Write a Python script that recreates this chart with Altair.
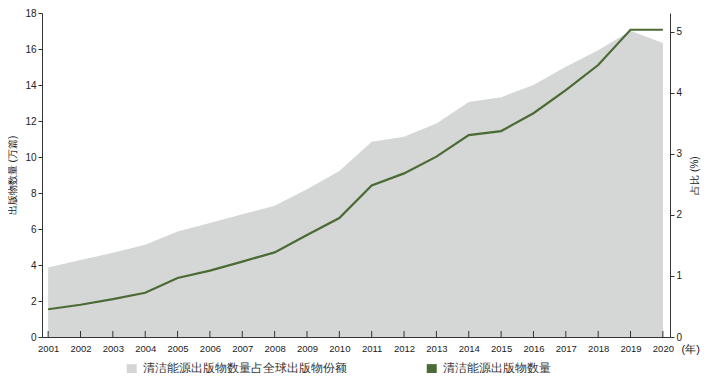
import altair as alt
import pandas as pd

years = list(range(2001, 2021))
publications = [1.54, 1.79, 2.10, 2.46, 3.28, 3.69, 4.19, 4.70, 5.67, 6.61,
                8.42, 9.09, 10.02, 11.22, 11.44, 12.43, 13.72, 15.11, 17.07, 17.07]
share = [1.14, 1.26, 1.38, 1.51, 1.73, 1.87, 2.01, 2.15, 2.42, 2.72,
         3.20, 3.28, 3.50, 3.85, 3.93, 4.13, 4.43, 4.70, 5.02, 4.82]

area_label = "清洁能源出版物数量占全球出版物份额"
line_label = "清洁能源出版物数量"

df = pd.DataFrame({"year": years, "pub": publications, "share": share,
                   "s_area": area_label, "s_line": line_label})

FONT = "Liberation Sans"
W, H = 628, 324
xscale = alt.Scale(domain=[2000.81, 2020.22], nice=False, zero=False)
xaxis = alt.Axis(values=years, format="d", title="(年)", tickSize=0,
                 labelPadding=6, labelFontSize=9.5, labelColor="#222",
                 labelOverlap=False, labelFlush=False, labelBound=False,
                 domainColor="#333", titleFontSize=11, titleFontWeight="normal",
                 titleColor="#222", titleAnchor="end", titleAlign="left",
                 titleBaseline="middle", titleX=W + 11, titleY=12)

base = alt.Chart(df)

area = base.mark_area(color="#d5d6d6").encode(
    x=alt.X("year:Q", scale=xscale, axis=xaxis),
    y=alt.Y("share:Q", scale=alt.Scale(domain=[0, 5.31], nice=False),
            axis=alt.Axis(orient="right", values=[0, 1, 2, 3, 4, 5], title="占比 (%)",
                          titleAngle=270, titleFontSize=10, titleFontWeight="normal",
                          titleColor="#222", titlePadding=18, tickSize=4, labelPadding=2,
                          labelFontSize=10, labelColor="#222", domainColor="#333",
                          tickColor="#333")),
    color=alt.Color("s_area:N",
                    scale=alt.Scale(domain=[area_label, line_label],
                                    range=["#d5d6d6", "#4b6b35"]),
                    legend=alt.Legend(title=None, orient="none", direction="horizontal",
                                      legendX=84, legendY=350, symbolType="square",
                                      symbolSize=100, symbolStrokeWidth=0,
                                      labelFontSize=11.5, labelColor="#333",
                                      labelLimit=300, columnPadding=79, symbolOffset=0,
                                      labelOffset=5, symbolOpacity=1)),
)

line = base.mark_line(color="#4b6b35", strokeWidth=2.2).encode(
    x=alt.X("year:Q", scale=xscale, axis=xaxis),
    y=alt.Y("pub:Q", scale=alt.Scale(domain=[0, 18], nice=False),
            axis=alt.Axis(orient="left", values=list(range(0, 19, 2)),
                          title="出版物数量 (万篇)", titleFontSize=10,
                          titleFontWeight="normal", titleColor="#222", titlePadding=7,
                          tickSize=4, labelPadding=2, labelFontSize=10,
                          labelColor="#222", domainColor="#333", tickColor="#333")),
)

ticks = base.mark_rule(color="#333", strokeWidth=1).encode(
    x=alt.X("year:Q", scale=xscale, axis=xaxis),
    y=alt.value(H),
    y2=alt.value(H - 6),
)

chart = alt.layer(area, line, ticks).resolve_scale(y="independent").properties(
    width=W, height=H,
    autosize=alt.AutoSizeParams(type="none"),
    padding={"left": 34, "top": 5, "right": 32, "bottom": 36},
).configure(font=FONT).configure_view(stroke=None).configure_axis(grid=False, domainWidth=1)

chart.save("out.html", embed_options={"renderer": "svg", "actions": False})
